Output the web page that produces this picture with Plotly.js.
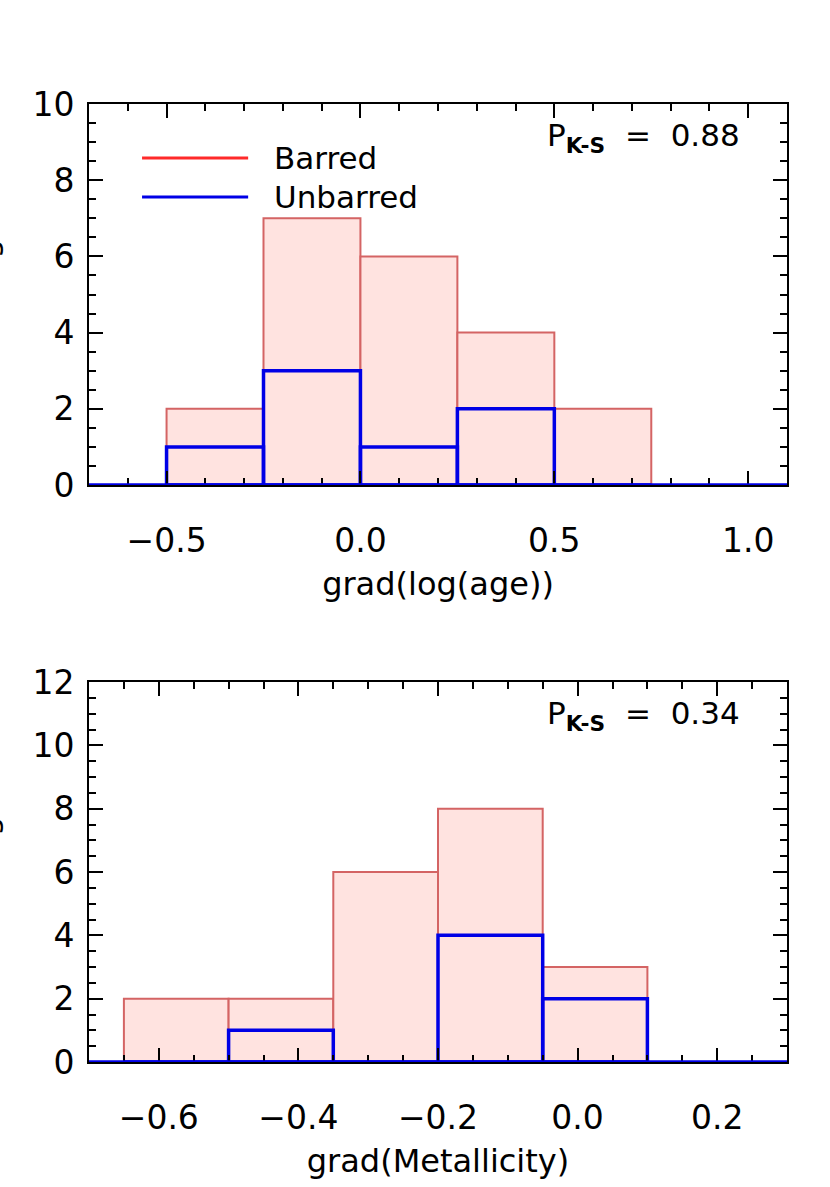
<!DOCTYPE html>
<html>
<head>
<meta charset="utf-8">
<script src="https://cdn.plot.ly/plotly-3.0.1.min.js"></script>
<style>
  body { margin: 0; background: #fff; }
  #hist_graph { width: 830px; height: 1187px; }
</style>
</head>
<body>
<div id="hist_graph"></div>
<script>
/**
 * Colors
 */
const barredFill = "#FFE3E0";
const barredEdge = "#D46464";
const unbarredEdge = "#0000E6";
const legendRed = "#FF2A2A";
const fontFamily = "DejaVu Sans, sans-serif";

/**
 * Age gradient histogram (bin edges + counts)
 */
const age_edges = [-0.5, -0.25, 0.0, 0.25, 0.5, 0.75];
const age_barred = [2, 7, 6, 4, 2];
const age_unbarred = [1, 3, 1, 2, 0];
const age_pks = "0.88";

/**
 * Metallicity gradient histogram (bin edges + counts)
 */
const met_edges = [-0.65, -0.5, -0.35, -0.2, -0.05, 0.1];
const met_barred = [2, 2, 6, 8, 3];
const met_unbarred = [0, 1, 0, 4, 2];
const met_pks = "0.34";

const legend_labels = ["Barred", "Unbarred"];

function centers(edges) {
    let c = [];
    for (let i = 0; i < edges.length - 1; i++) {
        c.push((edges[i] + edges[i + 1]) / 2);
    }
    return c;
}

function histTraces(edges, barred, unbarred, xa, ya) {
    const w = edges[1] - edges[0];
    const cx = centers(edges);
    var b = {
        type: 'bar', x: cx, y: barred, width: w,
        xaxis: xa, yaxis: ya, showlegend: false, hoverinfo: 'skip',
        marker: {color: barredFill, line: {color: barredEdge, width: 2}}
    };
    var u = {
        type: 'bar', x: cx, y: unbarred, width: w,
        xaxis: xa, yaxis: ya, showlegend: false, hoverinfo: 'skip',
        marker: {color: 'rgba(0,0,0,0)', line: {color: unbarredEdge, width: 3.5}}
    };
    return [b, u];
}

function axisStyle(extra) {
    var base = {
        showline: true, linecolor: 'black', linewidth: 2,
        mirror: 'ticks', ticks: 'inside', ticklen: 14, tickwidth: 2,
        tickcolor: 'black', showgrid: false, zeroline: false,
        tickfont: {family: fontFamily, size: 33, color: 'black'},
        fixedrange: true
    };
    return Object.assign(base, extra);
}

var data = []
    .concat(histTraces(age_edges, age_barred, age_unbarred, 'x', 'y'))
    .concat(histTraces(met_edges, met_barred, met_unbarred, 'x2', 'y2'));

var xDom = [89 / 830, 787 / 830];
var minorX1 = {dtick: 0.1, ticks: 'inside', ticklen: 7, tickwidth: 2, tickcolor: 'black'};
var minorX2 = {dtick: 0.05, ticks: 'inside', ticklen: 7, tickwidth: 2, tickcolor: 'black'};
var minorY = {dtick: 0.5, ticks: 'inside', ticklen: 7, tickwidth: 2, tickcolor: 'black'};
var titleFont = {family: fontFamily, size: 32, color: 'black'};
var textFont = {family: fontFamily, size: 31, color: 'black'};

var layout = {
    width: 830, height: 1187,
    margin: {l: 0, r: 0, t: 0, b: 0},
    paper_bgcolor: 'white', plot_bgcolor: 'white',
    barmode: 'overlay',
    showlegend: false,
    xaxis: axisStyle({
        domain: xDom, anchor: 'y', range: [-0.7, 1.1],
        tick0: 0, dtick: 0.5, tickformat: '.1f', ticklabelstandoff: 25,
        minor: minorX1,
        title: {text: 'grad(log(age))', font: titleFont, standoff: 14}
    }),
    yaxis: axisStyle({
        domain: [1 - 485 / 1187, 1 - 104 / 1187], anchor: 'x', range: [0, 10],
        tick0: 0, dtick: 2, ticklabelstandoff: 6,
        minor: minorY
    }),
    xaxis2: axisStyle({
        domain: xDom, anchor: 'y2', range: [-0.7, 0.3],
        tick0: 0, dtick: 0.2, tickformat: '.1f', ticklabelstandoff: 25,
        minor: minorX2,
        title: {text: 'grad(Metallicity)', font: titleFont, standoff: 14}
    }),
    yaxis2: axisStyle({
        domain: [1 - 1062 / 1187, 1 - 682 / 1187], anchor: 'x2', range: [0, 12],
        tick0: 0, dtick: 2, ticklabelstandoff: 6,
        minor: minorY
    }),
    shapes: [
        // blue baseline along zero
        {type: 'line', xref: 'x domain', yref: 'y', x0: 0, x1: 1, y0: 0, y1: 0,
         line: {color: unbarredEdge, width: 3.5}},
        {type: 'line', xref: 'x2 domain', yref: 'y2', x0: 0, x1: 1, y0: 0, y1: 0,
         line: {color: unbarredEdge, width: 3.5}},
        // legend swatches
        {type: 'line', xref: 'x domain', yref: 'y domain', x0: 0.076, x1: 0.228, y0: 0.858, y1: 0.858,
         line: {color: legendRed, width: 3}},
        {type: 'line', xref: 'x domain', yref: 'y domain', x0: 0.076, x1: 0.228, y0: 0.756, y1: 0.756,
         line: {color: unbarredEdge, width: 3}}
    ],
    annotations: [
        {xref: 'x domain', yref: 'y domain', x: 0.262, y: 0.858, xanchor: 'left', yanchor: 'middle',
         text: legend_labels[0], showarrow: false, font: textFont},
        {xref: 'x domain', yref: 'y domain', x: 0.262, y: 0.756, xanchor: 'left', yanchor: 'middle',
         text: legend_labels[1], showarrow: false, font: textFont},
        {xref: 'x domain', yref: 'y domain', x: 0.935, y: 0.912, xanchor: 'right', yanchor: 'middle',
         text: 'P<sub><b>K-S</b></sub>  =  ' + age_pks, showarrow: false, font: textFont},
        {xref: 'x2 domain', yref: 'y2 domain', x: 0.935, y: 0.912, xanchor: 'right', yanchor: 'middle',
         text: 'P<sub><b>K-S</b></sub>  =  ' + met_pks, showarrow: false, font: textFont},
        // y titles, almost entirely off the left edge (only a descender shows)
        {xref: 'paper', yref: 'y domain', x: 6 / 830, y: 0.534, xanchor: 'right', yanchor: 'middle',
         textangle: -90, text: 'Number of galaxies', showarrow: false, font: textFont},
        {xref: 'paper', yref: 'y2 domain', x: 6 / 830, y: 0.534, xanchor: 'right', yanchor: 'middle',
         textangle: -90, text: 'Number of galaxies', showarrow: false, font: textFont}
    ]
};

Plotly.newPlot('hist_graph', data, layout, {staticPlot: true});
</script>
</body>
</html>
